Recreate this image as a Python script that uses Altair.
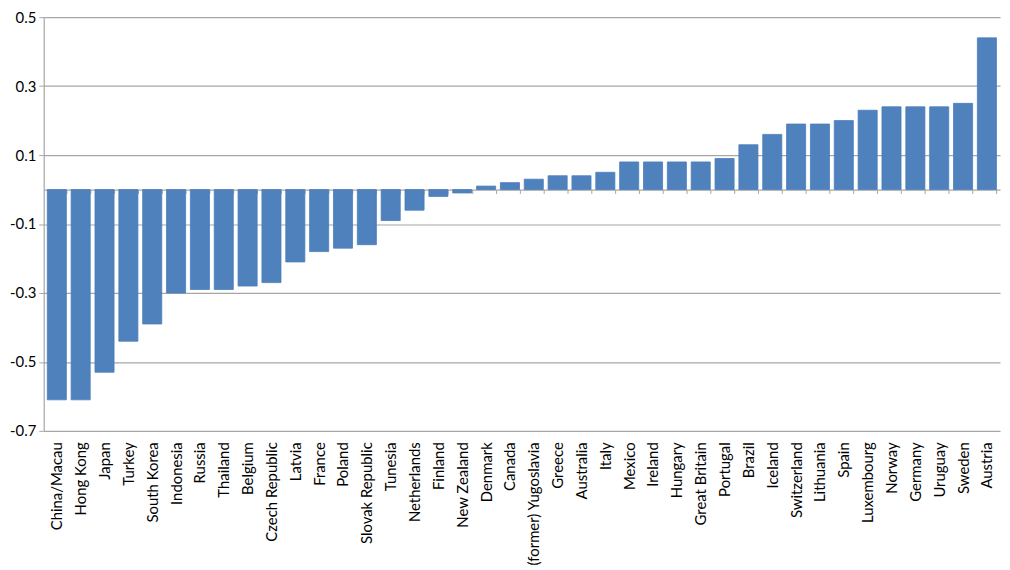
import altair as alt
import pandas as pd

countries = [
    "China/Macau", "Hong Kong", "Japan", "Turkey", "South Korea", "Indonesia",
    "Russia", "Thailand", "Belgium", "Czech Republic", "Latvia", "France",
    "Poland", "Slovak Republic", "Tunesia", "Netherlands", "Finland",
    "New Zealand", "Denmark", "Canada", "(former) Yugoslavia", "Greece",
    "Australia", "Italy", "Mexico", "Ireland", "Hungary", "Great Britain",
    "Portugal", "Brazil", "Iceland", "Switzerland", "Lithuania", "Spain",
    "Luxembourg", "Norway", "Germany", "Uruguay", "Sweden", "Austria",
]
values = [
    -0.61, -0.61, -0.53, -0.44, -0.39, -0.30,
    -0.29, -0.29, -0.28, -0.27, -0.21, -0.18,
    -0.17, -0.16, -0.09, -0.06, -0.02,
    -0.01, 0.01, 0.02, 0.03, 0.04,
    0.04, 0.05, 0.08, 0.08, 0.08, 0.08,
    0.09, 0.13, 0.16, 0.19, 0.19, 0.20,
    0.23, 0.24, 0.24, 0.24, 0.25, 0.44,
]
y_ticks = [-0.7, -0.5, -0.3, -0.1, 0.1, 0.3, 0.5]
y_min, y_max = -0.7, 0.5

df = pd.DataFrame({"country": countries, "value": values})

H = 417
W = 964
zero_offset = -(H - H * (y_max / (y_max - y_min)))

font = "Lato"
grey = "#A6A6A6"

chart = alt.Chart(df).mark_bar(color="#4F81BD", stroke="#4A7EBB", strokeWidth=0.8).encode(
    x=alt.X(
        "country:N",
        sort=countries,
        scale=alt.Scale(paddingInner=0.2, paddingOuter=0.15),
        axis=alt.Axis(
            title=None,
            orient="bottom",
            offset=zero_offset,
            labelAngle=-90,
            labelPadding=-zero_offset + 7,
            labelFont=font,
            labelFontSize=15,
            labelColor="#000000",
            labelLimit=400,
            domain=True,
            domainColor=grey,
            domainWidth=1.2,
            ticks=True,
            tickBand="extent",
            tickSize=4,
            tickColor=grey,
            grid=False,
        ),
    ),
    y=alt.Y(
        "value:Q",
        scale=alt.Scale(domain=[y_min, y_max], nice=False, zero=False),
        axis=alt.Axis(
            title=None,
            values=y_ticks,
            labelExpr="replace(format(datum.value, '.1f'), '\u2212', '-')",
            labelFont=font,
            labelFontSize=15,
            labelColor="#000000",
            labelPadding=3,
            grid=True,
            gridColor=grey,
            gridWidth=1.2,
            domain=True,
            domainColor=grey,
            domainWidth=1.2,
            ticks=True,
            tickSize=5,
            tickColor=grey,
        ),
    ),
).properties(
    width=W,
    height=H,
    autosize=alt.AutoSizeParams(type="none"),
    padding={"left": 36, "top": 7, "right": 2, "bottom": 134},
).configure_view(stroke=None)

chart.save("out.html", embed_options={"renderer": "svg", "actions": False})
